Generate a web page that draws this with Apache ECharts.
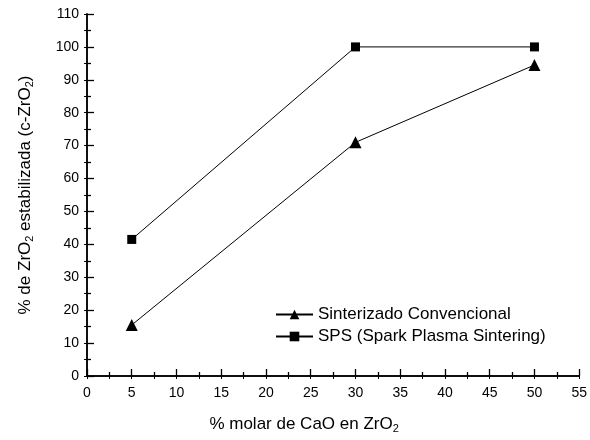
<!DOCTYPE html>
<head>
    <meta charset="utf-8">
    <title>ECharts</title>
</head>
<body style="margin:0">

<div id="main" style="height:440px;width:590px"></div>
<script src="https://cdn.jsdelivr.net/npm/echarts@6/dist/echarts.min.js"></script>

<script type="text/javascript">
// data
var xCaO = [5, 30, 50];
var convencional = [15.5, 71, 94.5];
var sps = [41.5, 100, 100];
var serieNames = ['Sinterizado Convencional', 'SPS (Spark Plasma Sintering)'];

var font = 'Liberation Sans, Arial, sans-serif';
var sub = { fontSize: 11, fontFamily: font, color: '#000', padding: [9, 0, 0, 0] };

function pares(xs, ys) {
    var out = [];
    for (var i = 0; i < xs.length; i++) out.push([xs[i], ys[i]]);
    return out;
}

var myChart = echarts.init(document.getElementById('main'));
var option = {
    animation: false,
    backgroundColor: '#fff',
    grid: { left: 87, right: 8, top: 14, bottom: 64 },
    legend: {
        left: 270, top: 301, orient: 'vertical',
        itemWidth: 37, itemHeight: 12, itemGap: 5,
        textStyle: { fontFamily: font, fontSize: 17, color: '#000' },
        data: serieNames
    },
    xAxis: [{
        type: 'value', min: 0, max: 55, interval: 5,
        name: '% molar de CaO en ZrO{s|2}', nameLocation: 'middle', nameGap: 38,
        nameTextStyle: { fontFamily: font, fontSize: 17, color: '#000', padding: [0, 58, 0, 0], rich: { s: sub } },
        axisLine: { lineStyle: { color: '#000', width: 1.5 } },
        axisTick: { inside: true, length: 7, lineStyle: { color: '#000', width: 1.3 } },
        minorTick: { show: true, splitNumber: 2, length: 4, lineStyle: { color: '#000', width: 1.3 } },
        axisLabel: { fontFamily: font, fontSize: 14, color: '#000', margin: 10 },
        splitLine: { show: false }
    }, {
        type: 'value', position: 'top', min: 0, max: 55, interval: 5,
        axisLine: { lineStyle: { color: '#000', width: 1.5 } },
        axisTick: { inside: true, length: 3, lineStyle: { color: '#000' } },
        minorTick: { show: true, splitNumber: 2, length: 3, lineStyle: { color: '#000' } },
        axisLabel: { show: false },
        splitLine: { show: false }
    }],
    yAxis: [{
        type: 'value', min: 0, max: 110, interval: 10,
        name: '% de ZrO{s|2} estabilizada (c-ZrO{s|2})', nameLocation: 'middle', nameGap: 52,
        nameTextStyle: { fontFamily: font, fontSize: 17, color: '#000', rich: { s: sub } },
        axisLine: { lineStyle: { color: '#000', width: 1.5 } },
        axisTick: { inside: true, length: 7, lineStyle: { color: '#000', width: 1.3 } },
        minorTick: { show: true, splitNumber: 2, length: 4, lineStyle: { color: '#000', width: 1.3 } },
        axisLabel: { fontFamily: font, fontSize: 14, color: '#000', margin: 8 },
        splitLine: { show: false }
    }, {
        type: 'value', position: 'right', min: 0, max: 110, interval: 10,
        axisLine: { show: true, lineStyle: { color: '#000', width: 1.5 } },
        axisTick: { inside: true, length: 3, lineStyle: { color: '#000' } },
        minorTick: { show: true, splitNumber: 2, length: 3, lineStyle: { color: '#000' } },
        axisLabel: { show: false },
        splitLine: { show: false }
    }],
    series: [{
        name: serieNames[0], type: 'line',
        data: pares(xCaO, convencional),
        symbol: 'triangle', symbolSize: 12,
        lineStyle: { color: '#000', width: 1 },
        itemStyle: { color: '#000' }
    }, {
        name: serieNames[1], type: 'line',
        data: pares(xCaO, sps),
        symbol: 'rect', symbolSize: 9,
        lineStyle: { color: '#000', width: 1 },
        itemStyle: { color: '#000' }
    }]
};
myChart.setOption(option);
</script>
</body>
